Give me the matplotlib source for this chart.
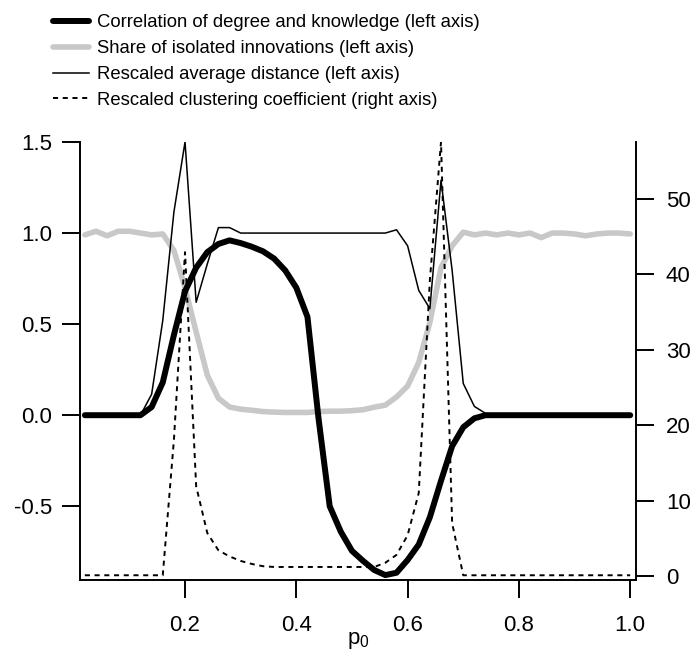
import matplotlib
matplotlib.use("Agg")
import matplotlib.pyplot as plt

plt.rcParams['font.family'] = ['Liberation Sans', 'DejaVu Sans']
plt.rcParams['mathtext.fontset'] = 'custom'
plt.rcParams['mathtext.rm'] = 'Liberation Sans'
plt.rcParams['mathtext.it'] = 'Liberation Sans'

# p0 grid, step 0.02
p0 = [round(0.02 * i, 2) for i in range(1, 51)]

# correlation of degree and knowledge (left axis)
correlation = [0, 0, 0, 0, 0, 0, 0.045, 0.18, 0.44, 0.68,
               0.81, 0.895, 0.94, 0.96, 0.945, 0.925, 0.9, 0.86, 0.795, 0.70,
               0.54, -0.02, -0.50, -0.64, -0.745, -0.80, -0.85, -0.878, -0.865, -0.795,
               -0.71, -0.56, -0.36, -0.17, -0.066, -0.017, 0, 0, 0, 0,
               0, 0, 0, 0, 0, 0, 0, 0, 0, 0]

# share of isolated innovations (left axis)
isolated = [0.99, 1.01, 0.985, 1.01, 1.01, 1.0, 0.99, 0.995, 0.905, 0.70,
            0.457, 0.22, 0.093, 0.045, 0.033, 0.027, 0.02, 0.017, 0.015, 0.015,
            0.015, 0.02, 0.022, 0.022, 0.025, 0.03, 0.044, 0.055, 0.10, 0.16,
            0.29, 0.51, 0.81, 0.93, 1.005, 0.99, 1.0, 0.99, 1.0, 0.99,
            1.0, 0.975, 1.0, 1.0, 0.995, 0.985, 0.995, 1.0, 1.0, 0.995]

# rescaled average distance (left axis)
distance = [0, 0, 0, 0, 0, 0, 0.115, 0.52, 1.115, 1.5,
            0.62, 0.83, 1.03, 1.03, 1.0, 1.0, 1.0, 1.0, 1.0, 1.0,
            1.0, 1.0, 1.0, 1.0, 1.0, 1.0, 1.0, 1.0, 1.018, 0.93,
            0.685, 0.585, 1.29, 0.795, 0.174, 0.048, 0.01, 0, 0, 0,
            0, 0, 0, 0, 0, 0, 0, 0, 0, 0]

# rescaled clustering coefficient (right axis)
clustering = [0.1, 0.1, 0.1, 0.1, 0.1, 0.1, 0.1, 0.1, 18.0, 42.9,
              11.9, 5.7, 3.4, 2.6, 2.0, 1.6, 1.3, 1.2, 1.2, 1.2,
              1.2, 1.2, 1.2, 1.2, 1.2, 1.2, 1.2, 1.76, 2.8, 5.4,
              11.0, 39.2, 57.5, 7.0, 0.1, 0.1, 0.1, 0.1, 0.1, 0.1,
              0.1, 0.1, 0.1, 0.1, 0.1, 0.1, 0.1, 0.1, 0.1, 0.1]

labels = ['Correlation of degree and knowledge (left axis)',
          'Share of isolated innovations (left axis)',
          'Rescaled average distance (left axis)',
          'Rescaled clustering coefficient (right axis)']

fig = plt.figure(figsize=(6.94, 6.58), dpi=100)
ax = fig.add_axes([0.1153, 0.1185, 0.8012, 0.6657])
ax2 = ax.twinx()

l_iso, = ax.plot(p0, isolated, color='#c8c8c8', lw=4.0, solid_capstyle='round',
                 solid_joinstyle='round')
l_cor, = ax.plot(p0, correlation, color='black', lw=4.3, solid_capstyle='round',
                 solid_joinstyle='round')
l_dist, = ax.plot(p0, distance, color='black', lw=1.1)
l_clu, = ax2.plot(p0, clustering, color='black', lw=1.4, linestyle=(0, (2.6, 2.4)))

ax.set_xlim(0.0113, 1.0105)
ax.set_ylim(-0.905, 1.497)
ax2.set_ylim(-0.53, 57.5)

ax.set_xticks([0.2, 0.4, 0.6, 0.8, 1.0])
ax.set_xticklabels(['0.2', '0.4', '0.6', '0.8', '1.0'])
ax.set_yticks([-0.5, 0.0, 0.5, 1.0, 1.5])
ax.set_yticklabels(['-0.5', '0.0', '0.5', '1.0', '1.5'])
ax2.set_yticks([0, 10, 20, 30, 40, 50])

for a in (ax, ax2):
    a.spines['top'].set_visible(False)
    for s in a.spines.values():
        s.set_linewidth(1.4)
ax.spines['right'].set_visible(False)
ax2.spines['left'].set_visible(False)
ax2.spines['bottom'].set_visible(False)

ax.tick_params(axis='x', length=13, width=1.4, labelsize=16, pad=12)
ax.tick_params(axis='y', length=13, width=1.4, labelsize=16, pad=7)
ax2.tick_params(axis='y', length=13, width=1.4, labelsize=16, pad=8.5)

ax.set_xlabel(r'$\mathregular{p_0}$', fontsize=16, labelpad=-4)

fig.legend([l_cor, l_iso, l_dist, l_clu], labels,
           loc='upper left', bbox_to_anchor=(0.058, 0.998), frameon=False,
           fontsize=13.3, handlelength=1.95, handletextpad=0.43, labelspacing=0.48,
           borderpad=0.2)

fig.savefig('out.png', dpi=100)
